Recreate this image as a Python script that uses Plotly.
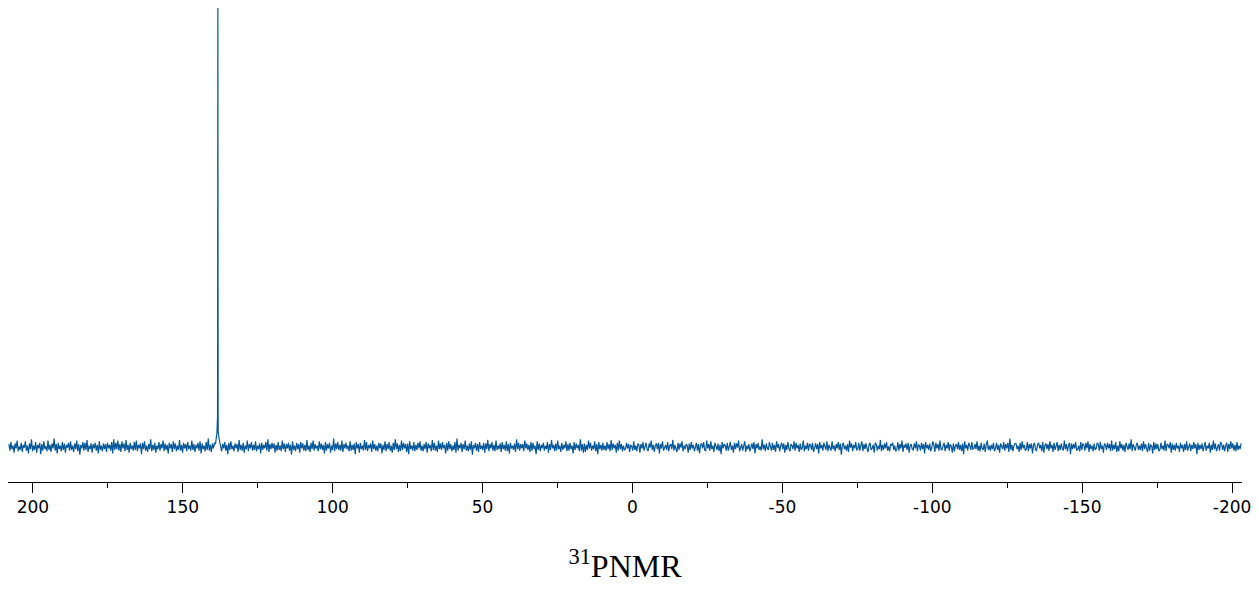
import numpy as np
import plotly.graph_objects as go

# Baseline noise (relative intensity)
noise = [
 0.4,-0.5,0.7,-0.3,0.2,-0.8,0.5,-0.2,0.9,-0.6,0.1,-0.4,0.6,-0.7,0.3,-0.1,0.8,-0.5,0.2,-0.9,
 0.5,-0.3,1.1,-0.6,0.2,-0.4,0.7,-0.8,0.3,-0.2,0.6,-1.0,0.4,-0.5,0.8,-0.3,0.1,-0.6,0.9,-0.4,
 0.3,-0.7,0.5,-0.2,1.2,-0.5,0.4,-0.9,0.6,-0.3,0.2,-0.6,0.7,-0.4,0.5,-0.8,0.3,-0.1,0.6,-0.5,
 0.8,-0.4,0.2,-0.7,0.5,-0.3,0.9,-0.6,0.4,-1.1,0.3,-0.2,0.7,-0.5,0.6,-0.4,1.0,-0.7,0.2,-0.3,
 0.5,-0.8,0.4,-0.2,0.6,-0.5,0.3,-0.9,0.8,-0.4,0.2,-0.6,0.5,-0.3,0.4,-0.7,0.6,-0.2,0.3,-0.5,
 0.7,-0.9,1.1,-0.4,0.6,-0.3,0.9,-0.5,0.4,-0.7,0.8,-0.2,0.5,-0.6,1.0,-0.4,0.3,-0.8,0.6,-0.3,
 0.2,-0.5,0.7,-0.4,0.9,-0.6,0.3,-0.2,0.5,-1.0,0.6,-0.3,0.8,-0.5,0.2,-0.7,0.4,-0.3,1.1,-0.6,
 0.3,-0.4,0.6,-0.8,0.2,-0.3,0.7,-0.5,0.4,-0.2,0.9,-0.6,0.5,-0.4,0.3,-0.9,0.6,-0.2,0.4,-0.7,
 0.8,-0.3,0.5,-0.6,0.2,-0.4,1.0,-0.5,0.3,-0.8,0.6,-0.2,0.4,-0.6,0.7,-0.3,0.2,-0.5,0.9,-0.4,
 0.4,-0.7,0.3,-0.2,0.6,-0.5,0.8,-0.9,0.5,-0.3,0.2,-0.6,0.7,-0.4,1.2,-0.5,0.3,-0.7,0.5,-0.2,
 0.6,-0.4,0.9,-0.3,0.2,-0.8,0.5,-0.6,0.4,-0.2,0.7,-0.5,0.3,-1.0,0.6,-0.4,0.8,-0.3,0.2,-0.6,
 0.5,-0.2,0.4,-0.7,1.0,-0.4,0.3,-0.5,0.6,-0.8,0.2,-0.3,0.9,-0.6,0.4,-0.2,0.7,-0.5,0.3,-0.4,
 0.8,-0.6,0.2,-0.3,0.5,-0.9,0.6,-0.4,0.3,-0.2,0.7,-0.5,1.1,-0.7,0.4,-0.3,0.6,-0.2,0.5,-0.8,
 0.3,-0.5,0.7,-0.4,0.2,-0.6,0.9,-0.3,0.5,-0.7,0.4,-0.2,0.6,-0.5,0.3,-1.1,0.8,-0.4,0.2,-0.6,
 0.6,-0.3,0.4,-0.8,0.7,-0.2,0.5,-0.5,0.3,-0.6,1.0,-0.4,0.2,-0.7,0.6,-0.3,0.9,-0.5,0.4,-0.2,
 0.2,-0.6,0.8,-0.3,0.5,-0.4,0.3,-0.9,0.7,-0.5,0.4,-0.2,0.6,-0.8,0.2,-0.4,1.2,-0.6,0.5,-0.3,
 0.7,-0.4,0.3,-0.5,0.9,-0.7,0.4,-0.2,0.6,-0.3,0.2,-0.6,0.8,-0.5,0.3,-0.4,0.5,-1.0,0.7,-0.2,
 0.4,-0.8,0.6,-0.3,0.2,-0.5,1.0,-0.4,0.7,-0.6,0.3,-0.2,0.5,-0.7,0.9,-0.3,0.4,-0.5,0.2,-0.6,
 0.6,-0.2,0.5,-0.9,0.3,-0.4,0.8,-0.6,0.4,-0.3,0.7,-0.5,0.2,-0.8,0.6,-0.4,1.1,-0.3,0.5,-0.7,
 0.3,-0.6,0.9,-0.4,0.6,-0.2,0.4,-0.7,0.5,-1.0,0.8,-0.3,0.2,-0.5,0.7,-0.6,0.3,-0.4,0.6,-0.2,
 0.8,-0.5,0.2,-0.6,0.4,-0.3,0.7,-0.8,0.5,-0.2,0.3,-0.6,1.0,-0.4,0.6,-0.5,0.2,-0.7,0.9,-0.3,
 0.5,-0.4,0.7,-0.2,0.3,-0.9,0.6,-0.5,0.8,-0.3,0.4,-0.6,0.2,-0.4,0.7,-0.8,1.2,-0.5,0.3,-0.2,
 0.6,-0.7,0.4,-0.3,0.9,-0.5,0.2,-0.6,0.5,-0.4,0.8,-1.1,0.3,-0.2,0.6,-0.5,0.4,-0.7,0.7,-0.3,
 0.2,-0.4,0.6,-0.8,0.5,-0.3,1.0,-0.6,0.4,-0.2,0.7,-0.5,0.3,-0.6,0.9,-0.4,0.2,-0.3,0.5,-0.7,
 0.7,-0.3,0.3,-0.5,0.8,-0.6,0.4,-0.9,0.6,-0.2,0.2,-0.4,0.5,-0.7,1.1,-0.3,0.6,-0.5,0.4,-0.2,
 0.4,-0.6,0.9,-0.2,0.5,-0.4,0.3,-0.7,0.7,-0.5,0.6,-0.3,0.2,-1.0,0.8,-0.4,0.5,-0.6,0.3,-0.2,
 0.6,-0.5,0.2,-0.3,0.7,-0.8,0.4,-0.4,1.0,-0.2,0.3,-0.6,0.5,-0.5,0.9,-0.3,0.2,-0.7,0.6,-0.4,
 0.3,-0.2,0.8,-0.6,0.4,-0.5,0.6,-0.3,0.2,-0.9,0.7,-0.4,0.5,-0.2,0.3,-0.6,1.1,-0.5,0.4,-0.8,
 0.5,-0.7,0.3,-0.4,0.9,-0.2,0.6,-0.5,0.2,-0.3,0.8,-0.6,0.4,-1.0,0.7,-0.3,0.3,-0.5,0.6,-0.4,
 0.2,-0.5,0.7,-0.3,0.4,-0.6,1.0,-0.4,0.5,-0.2,0.3,-0.8,0.6,-0.5,0.9,-0.3,0.4,-0.6,0.2,-0.4,
 -0.3,0.6,-0.2,0.4,-0.7,0.3,0.1,-0.5,0.8,-0.4,0.2,-0.6,0.5,0.3,-0.8,0.4,-0.2,0.7,-0.5,0.1,
 0.6,-0.3,-0.6,0.5,-0.1,0.9,-0.4,0.3,-0.7,0.2,0.5,-0.3,0.6,-0.9,0.4,-0.2,0.8,-0.5,-0.1,0.3,
 -0.4,0.7,-0.6,0.2,0.4,-0.3,1.0,-0.5,0.3,-0.2,-0.7,0.6,-0.4,0.5,-0.1,0.8,-0.6,0.2,-0.3,0.4,
 0.2,-0.8,0.5,-0.4,0.7,-0.2,0.3,-0.6,0.1,0.6,-0.5,0.4,-0.9,0.3,0.5,-0.2,0.7,-0.4,-0.6,0.9,
 -0.2,0.4,-0.5,0.8,-0.3,0.2,-0.7,0.6,0.1,-0.4,0.5,-0.6,0.3,-1.0,0.7,-0.2,0.4,0.2,-0.5,0.6,
 -0.5,0.3,0.7,-0.4,0.2,-0.8,0.6,-0.3,0.5,-0.1,0.9,-0.6,-0.2,0.4,-0.5,0.3,0.8,-0.7,0.2,-0.3,
 0.4,-0.6,0.2,0.5,-0.3,0.7,-0.9,0.4,-0.2,0.6,-0.4,0.1,-0.5,1.1,-0.3,0.3,-0.6,0.5,-0.2,-0.4,
 0.7,-0.2,-0.5,0.6,-0.4,0.3,-0.7,0.8,-0.1,0.4,-0.6,0.2,0.6,-0.3,0.5,-0.8,0.3,-0.4,0.7,-0.2,
 -0.6,0.4,0.2,-0.3,0.8,-0.5,0.6,-0.2,0.3,-0.7,0.5,-0.4,-0.1,0.9,-0.6,0.2,-0.3,0.6,-0.5,0.4,
 0.3,-0.4,0.6,-0.7,0.2,0.5,-0.3,0.4,-0.9,0.7,-0.2,0.3,-0.5,0.6,0.1,-0.4,0.8,-0.6,0.3,-0.2,
 -0.5,0.8,-0.3,0.2,-0.6,0.4,-0.2,0.7,-0.4,0.5,-1.1,0.3,0.6,-0.3,0.2,-0.5,0.4,-0.7,0.9,-0.1,
 0.5,-0.6,0.3,-0.2,0.7,-0.4,-0.3,0.6,-0.5,0.2,0.8,-0.6,0.4,-0.3,0.5,-0.2,-0.7,0.3,0.6,-0.4,
 -0.2,0.3,-0.8,0.6,0.4,-0.5,0.2,-0.3,1.0,-0.6,0.3,-0.4,0.5,-0.2,0.7,-0.5,0.1,-0.6,0.4,0.2,
 0.6,-0.4,0.2,-0.6,-0.3,0.7,-0.5,0.4,-0.2,0.9,-0.7,0.3,-0.1,0.5,-0.4,0.6,-0.8,0.2,0.4,-0.3,
 -0.4,0.5,-0.2,0.8,-0.6,0.3,0.2,-0.5,0.6,-0.3,0.4,-0.9,0.7,-0.2,0.3,-0.4,0.5,-0.6,-0.1,0.8,
 0.3,-0.7,0.6,-0.2,0.4,-0.5,0.9,-0.3,-0.4,0.2,0.6,-0.6,0.3,-0.2,0.7,-0.5,0.4,0.1,-0.8,0.5,
 -0.6,0.2,0.4,-0.3,0.7,-0.4,0.3,-0.6,0.5,-1.0,0.8,-0.2,0.3,-0.5,0.6,0.2,-0.4,0.7,-0.3,-0.2,
 0.4,-0.3,0.8,-0.5,0.2,-0.6,0.6,-0.2,-0.4,0.5,-0.7,0.3,0.9,-0.4,0.2,-0.5,0.3,-0.3,0.6,-0.6,
 -0.2,0.6,-0.4,0.3,-0.8,0.5,0.2,-0.3,0.7,-0.5,0.4,-0.2,0.6,-0.7,1.2,-0.4,0.3,-0.6,0.2,0.5,
 0.5,-0.3,0.2,-0.7,0.6,-0.4,0.8,-0.2,0.3,-0.5,-0.3,0.7,-0.6,0.4,-0.2,0.5,-0.9,0.3,0.6,-0.4,
 -0.5,0.4,0.6,-0.2,0.3,-0.6,0.7,-0.8,0.2,0.5,-0.3,0.4,-0.5,0.8,-0.2,0.3,-0.7,0.6,-0.4,0.2,
 0.7,-0.6,0.3,-0.4,0.5,-0.2,-0.5,0.9,-0.3,0.4,-0.6,0.2,0.6,-1.0,0.5,-0.3,0.4,-0.2,0.7,-0.5,
 -0.3,0.2,-0.6,0.7,-0.4,0.5,0.3,-0.5,0.6,-0.2,0.8,-0.7,0.4,-0.3,0.2,-0.6,0.5,-0.4,-0.2,0.6,
 0.4,-0.5,0.7,-0.3,0.2,-0.8,0.5,0.3,-0.4,0.6,-0.2,0.4,-0.6,0.9,-0.5,0.3,-0.3,0.7,-0.7,0.2,
 -0.6,0.8,-0.2,0.4,-0.5,0.3,-0.7,0.6,0.2,-0.4,0.5,-0.3,1.1,-0.6,0.4,-0.2,-0.5,0.3,0.6,-0.4,
 0.2,-0.4,0.5,-0.6,0.8,-0.3,0.4,-0.2,-0.7,0.6,-0.5,0.3,0.2,-0.9,0.7,-0.4,0.5,-0.3,0.4,-0.6,
 -0.4,0.6,-0.3,0.2,-0.5,0.9,-0.6,0.4,0.3,-0.2,0.7,-0.8,0.5,-0.4,0.3,-0.5,0.6,-0.2,0.2,-0.7,
 0.6,-0.2,0.3,-0.7,0.4,-0.4,0.8,-0.5,0.2,0.5,-0.6,0.3,-0.3,0.7,-0.2,0.4,-1.0,0.6,-0.4,0.3,
 -0.3,0.5,-0.6,0.4,0.7,-0.5,0.2,-0.2,0.6,-0.8,0.3,-0.4,0.9,-0.3,0.5,-0.6,-0.2,0.4,-0.5,0.7,
 0.5,-0.4,0.3,-0.6,0.2,0.6,-0.7,0.4,-0.3,0.8,-0.2,0.5,-0.5,0.3,-0.6,0.7,-0.4,0.2,-0.3,0.5,
]

# Main 31P resonance (ppm, relative intensity)
peak_ppm = [139.1, 138.6, 138.4, 138.3, 138.2, 137.9, 137.5]
peak_int = [0.4, 2.0, 4.3, 62.0, 2.2, 1.2, 0.5]

ppm_start, ppm_end = 208.0, -203.0
x_ticks = [200, 150, 100, 50, 0, -50, -100, -150, -200]
title_text = "<sup>31</sup>PNMR"

grid = np.linspace(ppm_start, ppm_end, len(noise))
keep = np.abs(grid - 138.3) > 1.0
x = np.concatenate([grid[keep], np.array(peak_ppm)])
y = np.concatenate([np.array(noise)[keep], np.array(peak_int)])
order = np.argsort(-x)
x, y = x[order], y[order]

fig = go.Figure(go.Scatter(x=x, y=y, mode="lines",
                           line=dict(color="#04579a", width=1.2),
                           hoverinfo="skip", showlegend=False))

fig.update_layout(
    width=1259, height=593,
    margin=dict(l=8, r=15, t=8, b=111),
    paper_bgcolor="white", plot_bgcolor="white",
    title=dict(text=title_text, x=0.5, xanchor="center", xref="paper",
               y=1 - 566 / 593, yanchor="middle", yref="container",
               font=dict(family="Liberation Serif", size=32, color="black")),
)
fig.update_xaxes(
    range=[208.3, -203.3], tickvals=x_ticks, ticktext=[str(t) for t in x_ticks],
    showline=True, linecolor="black", linewidth=1,
    ticks="outside", ticklen=10, tickcolor="black", tickwidth=1,
    minor=dict(dtick=25, tick0=0, ticks="outside", ticklen=5, tickcolor="black"),
    showgrid=False, zeroline=False,
    tickfont=dict(family="DejaVu Sans", size=17, color="black"),
)
fig.update_yaxes(range=[-4.94, 62.0], visible=False, showgrid=False, zeroline=False)

fig.write_html("out.html")
